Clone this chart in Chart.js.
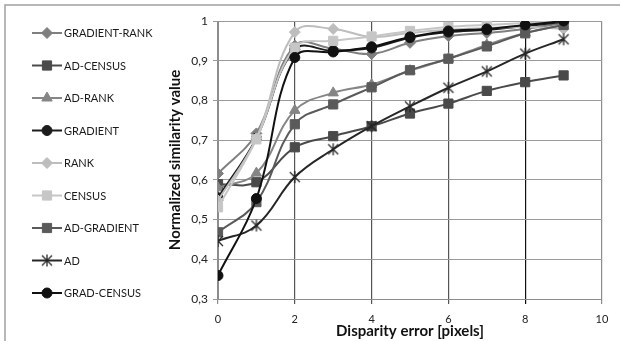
<!DOCTYPE html>
<html lang="en">
<head>
  <meta charset="UTF-8">
  <title>Normalized similarity vs disparity error</title>
  <script src="https://cdn.jsdelivr.net/npm/chart.js"></script>
  <style>
    body {
      margin: 0;
      background: white;
    }

    .wrap {
      position: relative;
      width: 620px;
      height: 341px;
    }
  </style>
</head>
<body>
  <div class="wrap">
    <canvas id="simChart"></canvas>
  </div>

  <script>
    // data
    const xValues = [0, 1, 2, 3, 4, 5, 6, 7, 8, 9];
    const seriesNames = ['GRADIENT-RANK', 'AD-CENSUS', 'AD-RANK', 'GRADIENT', 'RANK', 'CENSUS', 'AD-GRADIENT', 'AD', 'GRAD-CENSUS'];

    const gradientRank = [0.616, 0.717, 0.938, 0.93, 0.917, 0.945, 0.962, 0.97, 0.98, 0.995];
    const adCensus     = [0.589, 0.594, 0.682, 0.71, 0.735, 0.767, 0.792, 0.824, 0.846, 0.863];
    const adRank       = [0.58, 0.617, 0.775, 0.819, 0.84, 0.875, 0.905, 0.94, 0.97, 0.99];
    const gradient     = [0.555, 0.705, 0.928, 0.925, 0.932, 0.958, 0.972, 0.978, 0.987, 0.998];
    const rank         = [0.548, 0.705, 0.972, 0.98, 0.96, 0.97, 0.978, 0.982, 0.985, 0.98];
    const census       = [0.531, 0.702, 0.933, 0.95, 0.961, 0.975, 0.985, 0.99, 0.995, 1.0];
    const adGradient   = [0.468, 0.544, 0.74, 0.79, 0.833, 0.876, 0.905, 0.936, 0.969, 0.99];
    const ad           = [0.446, 0.485, 0.607, 0.677, 0.735, 0.785, 0.832, 0.873, 0.918, 0.954];
    const gradCensus   = [0.359, 0.553, 0.908, 0.922, 0.935, 0.96, 0.975, 0.98, 0.99, 1.0];

    const yTicks = [0.3, 0.4, 0.5, 0.6, 0.7, 0.8, 0.9, 1];
    const xTicks = [0, 2, 4, 6, 8, 10];

    const allSeries = [gradientRank, adCensus, adRank, gradient, rank, census, adGradient, ad, gradCensus];
    const colors = ['#7f7f7f', '#4a4a4a', '#858585', '#1c1c1c', '#bdbdbd', '#c6c6c6', '#5a5a5a', '#262626', '#111111'];
    const markers = ['rectRot', 'rect', 'triangle', 'circle', 'rectRot', 'rect', 'rect', 'asterisk', 'circle'];
    const markerSize = { rectRot: 5.5, rect: 6.5, triangle: 6, circle: 5, asterisk: 6 };

    const FONT = 'Lato, "Open Sans", sans-serif';

    // Excel style "*" marker: an X with a vertical stroke
    function asteriskMarker(color) {
      const c = document.createElement('canvas');
      c.width = 14;
      c.height = 14;
      const g = c.getContext('2d');
      g.strokeStyle = color;
      g.lineWidth = 1.3;
      g.beginPath();
      g.moveTo(2, 2); g.lineTo(12, 12);
      g.moveTo(12, 2); g.lineTo(2, 12);
      g.moveTo(7, 1); g.lineTo(7, 13);
      g.stroke();
      return c;
    }

    const datasets = allSeries.map((vals, i) => ({
      label: seriesNames[i],
      data: vals.map((v, j) => ({ x: xValues[j], y: v })),
      borderColor: colors[i],
      backgroundColor: colors[i],
      borderWidth: 2,
      pointStyle: markers[i] === 'asterisk' ? asteriskMarker(colors[i]) : markers[i],
      pointRadius: markerSize[markers[i]],
      pointBorderWidth: 1,
      tension: 0.4,
      order: -i
    }));

    // legend on the left: short line + marker + name
    const sideLegend = {
      id: 'sideLegend',
      afterDraw(chart) {
        const ctx = chart.ctx;
        ctx.save();
        // outer frame (left and top edges visible)
        ctx.strokeStyle = '#a0a0a0';
        ctx.lineWidth = 1.5;
        ctx.beginPath();
        ctx.moveTo(5, 341);
        ctx.lineTo(5, 5);
        ctx.lineTo(620, 5);
        ctx.stroke();

        datasets.forEach((ds, i) => {
          const y = 33 + i * 32.5;
          ctx.strokeStyle = ds.borderColor;
          ctx.lineWidth = 2;
          ctx.beginPath();
          ctx.moveTo(32, y);
          ctx.lineTo(62, y);
          ctx.stroke();
          ctx.fillStyle = ds.backgroundColor;
          ctx.lineWidth = ds.pointBorderWidth;
          Chart.helpers.drawPoint(ctx, { pointStyle: ds.pointStyle, radius: ds.pointRadius, rotation: 0, borderWidth: ds.pointBorderWidth }, 47, y);
          ctx.fillStyle = '#1a1a1a';
          ctx.font = '11px ' + FONT;
          ctx.textAlign = 'left';
          ctx.textBaseline = 'middle';
          ctx.fillText(ds.label, 64, y + 0.5);
        });
        ctx.restore();
      }
    };

    function xGridColor(c) {
      const v = c.tick ? c.tick.value : null;
      if (v === 8) return '#111111';
      if (v === 2 || v === 4 || v === 6) return '#555555';
      return '#8c8c8c';
    }

    new Chart(document.getElementById('simChart'), {
      type: 'line',
      data: { datasets: datasets },
      options: {
        responsive: true,
        maintainAspectRatio: false,
        animation: false,
        layout: { padding: { left: 150, top: 21, right: 18, bottom: 0 } },
        plugins: {
          legend: { display: false },
          tooltip: { enabled: false }
        },
        scales: {
          x: {
            type: 'linear',
            min: 0,
            max: 10,
            afterFit(scale) { scale.height = 42; },
            afterBuildTicks(scale) { scale.ticks = xTicks.map(v => ({ value: v })); },
            grid: { color: xGridColor, lineWidth: 1.2, tickLength: 5 },
            border: { color: '#8c8c8c' },
            ticks: { color: '#222', font: { family: FONT, size: 11 }, padding: 9, maxRotation: 0 },
            title: {
              display: true,
              text: 'Disparity error [pixels]',
              color: '#111',
              font: { family: FONT, size: 15, weight: 'bold' },
              padding: { top: 0, bottom: 1 }
            }
          },
          y: {
            min: 0.3,
            max: 1,
            afterFit(scale) { scale.width = 68; },
            afterBuildTicks(scale) { scale.ticks = yTicks.map(v => ({ value: v })); },
            grid: { color: '#9a9a9a', lineWidth: 1, tickLength: 5 },
            border: { color: '#8c8c8c' },
            ticks: {
              color: '#222',
              font: { family: FONT, size: 12 },
              padding: 5,
              callback: v => (Math.abs(v - 1) < 1e-9 ? '1' : v.toFixed(1).replace('.', ','))
            },
            title: {
              display: true,
              text: 'Normalized similarity value',
              color: '#111',
              font: { family: FONT, size: 15, weight: 'bold' },
              padding: { top: 16, bottom: 0 }
            }
          }
        }
      },
      plugins: [sideLegend]
    });
  </script>
</body>
</html>
